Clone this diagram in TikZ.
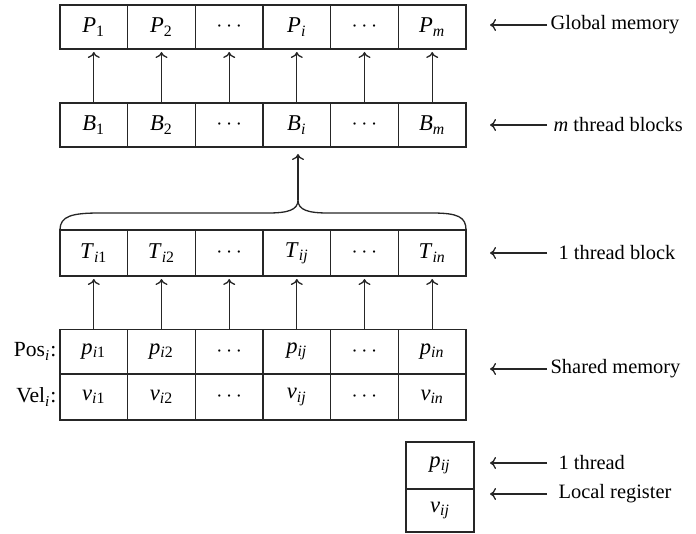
\documentclass[tikz,border=0pt]{standalone}
\usepackage{fontspec}
\setmainfont{Liberation Serif}
\usetikzlibrary{arrows.meta}
\newcommand\iv[1]{\textit{#1}}
\newcommand\sbs[1]{\textsubscript{#1}}
\newcommand\dts{$\cdots$}
\begin{document}
\begin{tikzpicture}[x=0.5pt,y=-0.5pt, line width=0.65pt, draw=black!85,
  cell/.style={draw, rectangle, minimum width=33.83pt, minimum height=22pt, inner sep=0pt, outer sep=0pt, font=\fontsize{11.3}{13}\selectfont},
  lab/.style={anchor=west, inner sep=0pt, font=\fontsize{10.2}{12}\selectfont},
  side/.style={anchor=east, inner sep=0pt, font=\fontsize{10.8}{12}\selectfont},
  tip/.style={-{To[length=3pt,width=6pt]}},
  up/.style={tip, shorten >=1.5pt}]
\useasboundingbox (0,0) rectangle (696,534);
% Global memory row
\node[cell] (P1) at (93.8,27) {\iv{P}\sbs{1}};
\node[cell] (P2) at (161.5,27) {\iv{P}\sbs{2}};
\node[cell] (P3) at (229.2,27) {\dts};
\node[cell] (P4) at (296.8,27) {\iv{P}\sbs{\iv{i}}};
\node[cell] (P5) at (364.5,27) {\dts};
\node[cell] (P6) at (432.2,27) {\iv{P}\sbs{\iv{m}}};
% Thread blocks row
\node[cell] (B1) at (93.8,125) {\iv{B}\sbs{1}};
\node[cell] (B2) at (161.5,125) {\iv{B}\sbs{2}};
\node[cell] (B3) at (229.2,125) {\dts};
\node[cell] (B4) at (296.8,125) {\iv{B}\sbs{\iv{i}}};
\node[cell] (B5) at (364.5,125) {\dts};
\node[cell] (B6) at (432.2,125) {\iv{B}\sbs{\iv{m}}};
% One thread block row
\node[cell, minimum height=23pt] (T1) at (93.8,253) {\iv{T}\sbs{\iv{i}1}};
\node[cell, minimum height=23pt] (T2) at (161.5,253) {\iv{T}\sbs{\iv{i}2}};
\node[cell, minimum height=23pt] (T3) at (229.2,253) {\dts};
\node[cell, minimum height=23pt] (T4) at (296.8,253) {\iv{T}\sbs{\iv{ij}}};
\node[cell, minimum height=23pt] (T5) at (364.5,253) {\dts};
\node[cell, minimum height=23pt] (T6) at (432.2,253) {\iv{T}\sbs{\iv{in}}};
% Shared memory rows
\node[cell] (S1) at (93.8,351.5) {\iv{p}\sbs{\iv{i}1}};
\node[cell] (S2) at (161.5,351.5) {\iv{p}\sbs{\iv{i}2}};
\node[cell] (S3) at (229.2,351.5) {\dts};
\node[cell] (S4) at (296.8,351.5) {\iv{p}\sbs{\iv{ij}}};
\node[cell] (S5) at (364.5,351.5) {\dts};
\node[cell] (S6) at (432.2,351.5) {\iv{p}\sbs{\iv{in}}};
\node[cell, minimum height=23pt] (V1) at (93.8,397) {\iv{v}\sbs{\iv{i}1}};
\node[cell, minimum height=23pt] (V2) at (161.5,397) {\iv{v}\sbs{\iv{i}2}};
\node[cell, minimum height=23pt] (V3) at (229.2,397) {\dts};
\node[cell, minimum height=23pt] (V4) at (296.8,397) {\iv{v}\sbs{\iv{ij}}};
\node[cell, minimum height=23pt] (V5) at (364.5,397) {\dts};
\node[cell, minimum height=23pt] (V6) at (432.2,397) {\iv{v}\sbs{\iv{in}}};
\node[side] (pos) at (57,351.5) {Pos\sbs{\iv{i}}:};
\node[side] (vel) at (57,397) {Vel\sbs{\iv{i}}:};
% Local register
\node[cell, minimum width=34pt, minimum height=23.5pt] (L1) at (440,465.5) {\iv{p}\sbs{\iv{ij}}};
\node[cell, minimum width=34pt, minimum height=21.5pt] (L2) at (440,510.5) {\iv{v}\sbs{\iv{ij}}};
% vertical arrows
\foreach \k in {1,...,6} {
  \draw[up] (B\k.north) -- (P\k.south);
  \draw[up] (S\k.north) -- (T\k.south);
}
% brace
\coordinate (cusp) at (298,200);
\draw (T1.north west) .. controls (60,216) and (72,213) .. (100,213) -- (268,213)
  .. controls (288,213) and (298,210) .. (cusp)
  .. controls (298,210) and (308,213) .. (328,213) -- (432,213)
  .. controls (458,213) and (466,217) .. (T6.north east);
\draw[tip, shorten >=3.5pt] (cusp) -- (cusp |- B4.south);
% right labels
\node[lab] (gm) at (550,25) {Global memory};
\node[lab] (tb) at (553,125) {\iv{m} thread blocks};
\node[lab] (ob) at (558,253) {1 thread block};
\node[lab] (sm) at (550,369) {Shared memory};
\node[lab] (ot) at (558,463) {1 thread};
\node[lab] (lr) at (558,494) {Local register};
\foreach \n/\y in {gm/25, tb/125, ob/253, sm/369, ot/463, lr/494} {
  \coordinate (\n T) at (547,\y);
  \coordinate (\n A) at (490,\y);
  \draw[tip] (\n T) -- (\n A);
}
\end{tikzpicture}
\end{document}
